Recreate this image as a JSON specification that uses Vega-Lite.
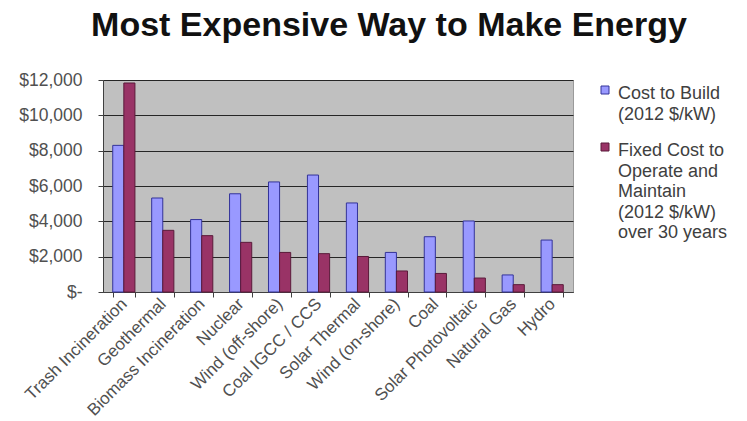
{
  "$schema": "https://vega.github.io/schema/vega-lite/v6.json",
  "autosize": "none",
  "width": 470,
  "height": 212,
  "padding": {"left": 103, "top": 80, "right": 174, "bottom": 129},
  "background": "white",
  "title": {
    "text": "Most Expensive Way to Make Energy",
    "font": "Liberation Sans",
    "fontSize": 34,
    "fontWeight": "bold",
    "color": "#111111",
    "anchor": "middle",
    "frame": "group",
    "dx": 51,
    "offset": 28
  },
  "data": {
    "values": [
      {"source": "Trash Incineration", "series": "Cost to Build (2012 $/kW)", "cost": 8300},
      {"source": "Trash Incineration", "series": "Fixed Cost to Operate and Maintain (2012 $/kW) over 30 years", "cost": 11830},
      {"source": "Geothermal", "series": "Cost to Build (2012 $/kW)", "cost": 5320},
      {"source": "Geothermal", "series": "Fixed Cost to Operate and Maintain (2012 $/kW) over 30 years", "cost": 3490},
      {"source": "Biomass Incineration", "series": "Cost to Build (2012 $/kW)", "cost": 4100},
      {"source": "Biomass Incineration", "series": "Fixed Cost to Operate and Maintain (2012 $/kW) over 30 years", "cost": 3190},
      {"source": "Nuclear", "series": "Cost to Build (2012 $/kW)", "cost": 5560},
      {"source": "Nuclear", "series": "Fixed Cost to Operate and Maintain (2012 $/kW) over 30 years", "cost": 2810},
      {"source": "Wind (off-shore)", "series": "Cost to Build (2012 $/kW)", "cost": 6230},
      {"source": "Wind (off-shore)", "series": "Fixed Cost to Operate and Maintain (2012 $/kW) over 30 years", "cost": 2240},
      {"source": "Coal IGCC / CCS", "series": "Cost to Build (2012 $/kW)", "cost": 6620},
      {"source": "Coal IGCC / CCS", "series": "Fixed Cost to Operate and Maintain (2012 $/kW) over 30 years", "cost": 2170},
      {"source": "Solar Thermal", "series": "Cost to Build (2012 $/kW)", "cost": 5040},
      {"source": "Solar Thermal", "series": "Fixed Cost to Operate and Maintain (2012 $/kW) over 30 years", "cost": 2010},
      {"source": "Wind (on-shore)", "series": "Cost to Build (2012 $/kW)", "cost": 2240},
      {"source": "Wind (on-shore)", "series": "Fixed Cost to Operate and Maintain (2012 $/kW) over 30 years", "cost": 1190},
      {"source": "Coal", "series": "Cost to Build (2012 $/kW)", "cost": 3130},
      {"source": "Coal", "series": "Fixed Cost to Operate and Maintain (2012 $/kW) over 30 years", "cost": 1050},
      {"source": "Solar Photovoltaic", "series": "Cost to Build (2012 $/kW)", "cost": 4020},
      {"source": "Solar Photovoltaic", "series": "Fixed Cost to Operate and Maintain (2012 $/kW) over 30 years", "cost": 790},
      {"source": "Natural Gas", "series": "Cost to Build (2012 $/kW)", "cost": 965},
      {"source": "Natural Gas", "series": "Fixed Cost to Operate and Maintain (2012 $/kW) over 30 years", "cost": 415},
      {"source": "Hydro", "series": "Cost to Build (2012 $/kW)", "cost": 2940},
      {"source": "Hydro", "series": "Fixed Cost to Operate and Maintain (2012 $/kW) over 30 years", "cost": 415}
    ]
  },
  "mark": {"type": "bar", "strokeWidth": 1},
  "encoding": {
    "x": {
      "field": "source",
      "type": "nominal",
      "sort": null,
      "scale": {"paddingInner": 0.43, "paddingOuter": 0.25},
      "axis": {
        "title": null,
        "labelAngle": -45,
        "labelAlign": "right",
        "labelBaseline": "middle",
        "labelFont": "Liberation Sans",
        "labelFontSize": 17,
        "labelColor": "#505050",
        "labelPadding": 4,
        "labelLimit": 300,
        "tickBand": "extent",
        "tickColor": "#404040",
        "tickSize": 5,
        "domainColor": "#404040",
        "grid": false
      }
    },
    "xOffset": {"field": "series", "type": "nominal", "scale": {"paddingInner": 0, "paddingOuter": 0}},
    "y": {
      "field": "cost",
      "type": "quantitative",
      "scale": {"domain": [0, 12000], "nice": false},
      "axis": {
        "title": null,
        "values": [0, 2000, 4000, 6000, 8000, 10000, 12000],
        "labelExpr": "datum.value == 0 ? '$-' : '$' + format(datum.value, ',')",
        "labelFont": "Liberation Sans",
        "labelFontSize": 17.5,
        "labelColor": "#505050",
        "labelPadding": 16,
        "tickSize": 5,
        "tickColor": "#404040",
        "domainColor": "#404040",
        "grid": true,
        "gridColor": "#262626",
        "gridWidth": 1.2
      }
    },
    "color": {
      "field": "series",
      "type": "nominal",
      "scale": {"range": ["#9999FF", "#993366"]},
      "legend": {
        "title": null,
        "orient": "none",
        "legendX": 493,
        "legendY": 1,
        "symbolType": "square",
        "symbolSize": 64,
        "symbolStrokeWidth": 1,
        "labelFont": "Liberation Sans",
        "labelFontSize": 18,
        "labelColor": "#404040",
        "labelBaseline": "top",
        "labelLimit": 200,
        "labelOffset": 4,
        "rowPadding": 14,
        "padding": 0,
        "labelExpr": "datum.label == 'Cost to Build (2012 $/kW)' ? ['Cost to Build', '(2012 $/kW)'] : ['Fixed Cost to', 'Operate and', 'Maintain', '(2012 $/kW)', 'over 30 years']",
        "encode": {"labels": {"update": {"lineHeight": {"value": 20.5}, "dy": {"value": -5}}}}
      }
    },
    "stroke": {
      "field": "series",
      "type": "nominal",
      "scale": {"range": ["#333399", "#5a1a3a"]},
      "legend": null
    }
  },
  "config": {
    "view": {"fill": "#C0C0C0", "stroke": "#9a9a9a", "strokeWidth": 1}
  }
}
